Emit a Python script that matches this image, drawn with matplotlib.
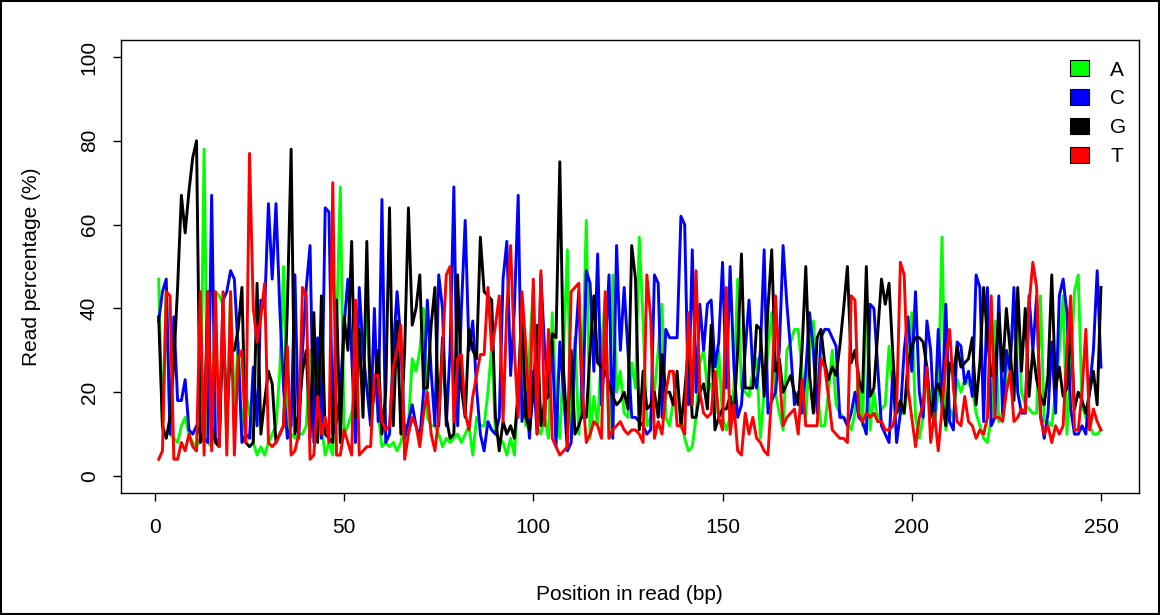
import matplotlib
matplotlib.use("Agg")
import matplotlib.pyplot as plt
from matplotlib.patches import Patch, Rectangle

# read position 1..250
positions = list(range(1, 251))

# base percentages in blocks
A = ([47, 11, 44, 10, 9, 8, 12, 14, 10, 8, 7, 9, 78, 8, 7, 44, 43, 41, 8, 44]
     + [16, 32, 10, 20, 15, 8, 5, 7, 5, 8, 10, 12, 25, 50, 12, 10, 9, 10, 10, 12]
     + [30, 25, 20, 12, 5, 8, 5, 35, 69, 10, 12, 15, 20, 25, 30, 38, 18, 22, 15, 7, 8]
     + [7, 8, 6, 8, 12, 12, 28, 25, 30, 40, 14, 12, 12, 10, 7, 9, 8, 9, 10, 8, 10]
     + [12, 5, 14, 12, 12, 20, 31, 10, 9, 8, 5, 9, 5, 20, 39, 12, 30, 45, 12, 10, 14]
     + [9, 39, 19, 9, 30, 54, 9, 33, 10, 25, 61, 9, 19, 12, 30, 43, 9, 48, 20, 25, 15]
     + [14, 27, 21, 57, 37, 12, 14, 20, 30, 41, 14, 12, 18, 20, 14, 9, 6, 7, 14, 27, 30]
     + [21, 22, 15, 30, 14, 11, 14, 21, 47, 21, 20, 19, 25, 28, 9, 20, 30, 39, 20, 15, 11]
     + [30, 32, 35, 35, 25, 14, 30, 37, 21, 12, 12, 20, 30, 17, 15, 14, 13, 11, 15, 25, 12]
     + [43, 11, 20, 13, 16, 17, 31, 21, 16, 15, 15, 22, 39, 14, 9, 14, 25, 18, 12, 20, 57]
     + [11, 16, 14, 23, 20, 23, 22, 21, 15, 12, 9, 8, 14, 37, 13, 15, 25, 30, 35, 42, 20]
     + [17, 16, 15, 15, 43, 13, 13, 12, 20, 30, 43, 10, 25, 44, 48, 17, 14, 12, 10, 10, 11])

C = ([37, 44, 47, 10, 38, 18, 18, 23, 11, 10, 12, 10, 9, 8, 67, 9, 8, 42, 44, 49]
     + [47, 30, 8, 10, 9, 26, 12, 42, 40, 65, 47, 65, 40, 21, 9, 12, 48, 9, 30, 45]
     + [55, 8, 33, 9, 64, 63, 10, 13, 20, 36, 47, 29, 8, 45, 30, 21, 12, 40, 13, 66, 8]
     + [10, 30, 44, 32, 9, 13, 17, 12, 9, 20, 42, 25, 12, 48, 40, 12, 30, 69, 12, 40, 61]
     + [30, 37, 21, 10, 6, 13, 11, 10, 14, 47, 56, 24, 40, 67, 13, 20, 9, 25, 10, 48, 30]
     + [21, 32, 7, 32, 20, 6, 8, 30, 44, 14, 49, 46, 25, 53, 17, 30, 48, 9, 55, 30, 45]
     + [30, 14, 14, 13, 12, 10, 11, 48, 46, 14, 35, 33, 33, 33, 62, 60, 17, 54, 20, 41, 30]
     + [41, 42, 26, 32, 51, 21, 50, 26, 14, 17, 30, 42, 25, 21, 30, 54, 15, 18, 20, 30, 55]
     + [41, 30, 17, 20, 15, 25, 39, 30, 15, 33, 35, 35, 33, 31, 14, 14, 12, 15, 20, 14, 13]
     + [10, 41, 40, 26, 12, 10, 8, 25, 8, 15, 30, 38, 25, 44, 20, 14, 37, 30, 12, 35, 16]
     + [41, 13, 11, 32, 31, 22, 25, 19, 48, 45, 13, 45, 12, 14, 43, 15, 30, 25, 45, 20, 15]
     + [15, 43, 30, 43, 15, 9, 15, 32, 15, 43, 47, 39, 16, 10, 10, 12, 10, 21, 30, 49, 26])

G = ([38, 12, 9, 14, 27, 45, 67, 58, 68, 76, 80, 8, 10, 44, 12, 8, 7, 37, 14, 30]
     + [30, 35, 45, 8, 7, 8, 46, 10, 18, 25, 22, 8, 10, 12, 40, 78, 10, 15, 25, 30]
     + [9, 39, 8, 43, 10, 9, 8, 42, 8, 38, 30, 56, 14, 35, 14, 56, 14, 20, 30, 10, 20]
     + [64, 12, 37, 10, 30, 64, 36, 40, 48, 21, 21, 36, 45, 12, 33, 14, 9, 10, 48, 21, 14]
     + [35, 30, 28, 57, 44, 43, 42, 14, 6, 13, 10, 12, 9, 20, 42, 14, 11, 20, 36, 12, 18]
     + [19, 34, 33, 75, 25, 10, 30, 10, 12, 15, 14, 30, 43, 27, 26, 25, 22, 19, 17, 18, 20]
     + [16, 55, 47, 11, 25, 16, 17, 20, 14, 29, 20, 20, 17, 25, 12, 20, 31, 14, 14, 20, 22]
     + [16, 36, 11, 14, 16, 16, 19, 14, 30, 53, 21, 21, 21, 36, 35, 19, 40, 54, 25, 28, 20]
     + [22, 24, 20, 17, 30, 50, 24, 15, 33, 35, 27, 23, 26, 24, 31, 40, 50, 27, 30, 23, 20]
     + [50, 19, 21, 34, 47, 41, 46, 29, 15, 18, 15, 27, 31, 33, 33, 32, 26, 14, 20, 22, 18]
     + [12, 27, 24, 31, 26, 27, 28, 33, 17, 27, 45, 33, 24, 24, 39, 25, 40, 30, 18, 45, 25]
     + [40, 19, 30, 23, 19, 17, 24, 48, 21, 26, 19, 21, 36, 16, 20, 18, 15, 20, 25, 17, 45])

T = ([4, 6, 44, 43, 4, 4, 8, 6, 10, 7, 6, 44, 5, 44, 6, 44, 7, 44, 5, 44]
     + [5, 28, 30, 8, 77, 40, 32, 38, 46, 8, 7, 8, 10, 12, 31, 5, 6, 10, 45, 43]
     + [4, 5, 19, 10, 14, 8, 70, 5, 5, 11, 8, 5, 42, 5, 6, 7, 7, 24, 24, 13, 11]
     + [12, 26, 30, 36, 4, 10, 14, 12, 7, 15, 20, 10, 6, 14, 30, 48, 50, 13, 28, 29, 15]
     + [11, 19, 24, 29, 29, 45, 30, 36, 43, 13, 40, 55, 30, 14, 44, 31, 14, 47, 10, 49, 12]
     + [35, 9, 7, 5, 6, 7, 44, 45, 46, 20, 8, 10, 13, 12, 9, 44, 9, 11, 12, 13, 11]
     + [10, 11, 11, 10, 8, 48, 38, 9, 13, 10, 20, 25, 25, 12, 12, 10, 39, 17, 49, 20, 15]
     + [14, 15, 25, 14, 11, 45, 10, 17, 6, 5, 15, 10, 14, 9, 8, 6, 5, 20, 43, 25, 12]
     + [14, 15, 16, 10, 23, 12, 12, 12, 12, 28, 26, 19, 11, 10, 9, 9, 8, 43, 42, 15, 13]
     + [15, 14, 15, 13, 13, 11, 11, 12, 16, 51, 48, 21, 14, 7, 14, 17, 26, 8, 15, 6, 16]
     + [28, 35, 21, 13, 12, 19, 13, 12, 9, 11, 10, 14, 43, 14, 14, 13, 20, 25, 13, 14, 16]
     + [15, 41, 51, 45, 14, 10, 12, 8, 12, 10, 12, 30, 43, 11, 11, 20, 35, 11, 16, 13, 11])

bases = ["A", "C", "G", "T"]
colours = ["#00ff00", "#0000ff", "#000000", "#ff0000"]
series = [A, C, G, T]

plt.rcParams['font.family'] = ['Liberation Sans', 'DejaVu Sans']

fig = plt.figure(figsize=(11.6, 6.15), dpi=100)
ax = fig.add_axes([0.1043, 0.1987, 0.8773, 0.7359])

for vals, col in zip(series, colours):
    ax.plot(positions, vals, color=col, linewidth=2.1)

ax.set_xlim(-8.96, 259.96)
ax.set_ylim(-4, 104)
ax.set_xticks([0, 50, 100, 150, 200, 250])
ax.set_yticks([0, 20, 40, 60, 80, 100])
ax.tick_params(direction='out', length=6, width=1, labelsize=15)
ax.tick_params(axis='x', pad=12)
ax.tick_params(axis='y', pad=10)
for lab in ax.get_yticklabels():
    lab.set_rotation(90)
    lab.set_va('center')
for sp in ax.spines.values():
    sp.set_linewidth(1)

ax.set_xlabel('Position in read (bp)', fontsize=15, labelpad=35)
ax.set_ylabel('Read percentage (%)', fontsize=15, labelpad=28)

handles = [Patch(facecolor=c, edgecolor='black', linewidth=0.8) for c in colours]
ax.legend(handles, bases, loc='upper right', bbox_to_anchor=(1.0, 0.983),
          frameon=False, fontsize=15,
          handlelength=0.9, handleheight=0.8, labelspacing=0.46,
          handletextpad=1.0, borderaxespad=0.2)

fig.patches.append(Rectangle((0.001, 0.001), 0.998, 0.997, transform=fig.transFigure,
                             fill=False, edgecolor='black', linewidth=1.5))

fig.savefig('out.png', dpi=100)
